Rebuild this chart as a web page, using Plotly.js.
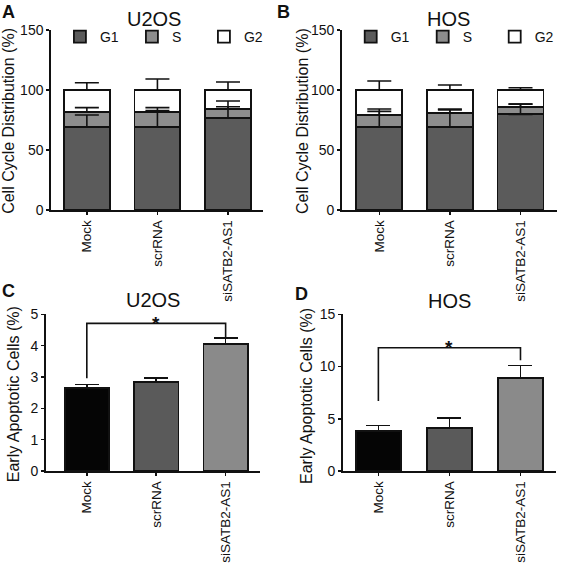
<!DOCTYPE html>
<html>
<head>
<meta charset="utf-8">
<script src="https://cdn.plot.ly/plotly-3.0.1.min.js"></script>
<style>html,body{margin:0;padding:0;background:#fff}</style>
</head>
<body>
<div id="chart" style="width:567px;height:564px"></div>
<script>
// ---------- data ----------
const groups = ['Mock', 'scrRNA', 'siSATB2-AS1'];
const phases = ['G1', 'S', 'G2'];

// Panel A (U2OS) cell-cycle distribution (%)
const u2osG1 = [68.9, 68.9, 76.9];
const u2osS  = [12.5, 12.5, 7.0];
const u2osG2 = [18.6, 18.6, 16.1];
const u2osG1Err = [10.3, 14.0, 9.2];
const u2osSErr  = [3.9, 3.9, 6.9];
const u2osG2Err = [6.1, 9.2, 6.7];

// Panel B (HOS) cell-cycle distribution (%)
const hosG1 = [68.9, 69.4, 79.7];
const hosS  = [10.3, 11.4, 5.9];
const hosG2 = [20.8, 19.2, 14.4];
const hosG1Err = [13.3, 14.0, 8.6];
const hosSErr  = [5.0, 3.4, 2.6];
const hosG2Err = [7.5, 4.2, 1.9];

// Panel C (U2OS) early apoptotic cells (%)
const u2osApop = [2.64, 2.84, 4.05];
const u2osApopErr = [0.12, 0.13, 0.19];
// Panel D (HOS) early apoptotic cells (%)
const hosApop = [3.8, 4.09, 8.9];
const hosApopErr = [0.54, 1.0, 1.2];

// significance brackets: [left leg bottom, bracket top, right leg bottom]
const sigU2os = [2.96, 4.71, 4.24];
const sigHos = [6.7, 11.8, 10.6];

const titleCycle = 'Cell Cycle Distribution (%)';
const titleApop = 'Early Apoptotic Cells (%)';

// ---------- styles ----------
const FONT = 'Liberation Sans, Arial, sans-serif';
const phaseColors = ['#5b5b5b', '#8d8d8d', '#ffffff'];
const apopColors = ['#050505', '#5a5a5a', '#8a8a8a'];
const LINE = {color: '#111', width: 1.8};

function stackTraces(vals, errs, xa, ya, legendName) {
  const out = [];
  const cum = [0, 0, 0];
  const errTraces = [];
  vals.forEach((v, k) => {
    out.push({
      type: 'bar', x: groups, y: v, name: phases[k],
      xaxis: xa, yaxis: ya, legend: legendName,
      marker: {color: phaseColors[k], line: LINE},
      width: 0.65, hoverinfo: 'y+name'
    });
    const tops = v.map((val, i) => (cum[i] += val));
    errTraces.push({
      type: 'scatter', mode: 'markers', x: groups, y: tops.slice(),
      xaxis: xa, yaxis: ya, showlegend: false, hoverinfo: 'skip',
      marker: {size: 1, opacity: 0},
      error_y: {type: 'data', symmetric: false, array: errs[k],
                arrayminus: [0, 0, 0], color: '#111', thickness: 1.6, width: 12}
    });
  });
  return out.concat(errTraces);
}

function apopTrace(vals, errs, xa, ya) {
  return {
    type: 'bar', x: groups, y: vals, xaxis: xa, yaxis: ya, showlegend: false,
    marker: {color: apopColors, line: LINE}, width: 0.64,
    error_y: {type: 'data', symmetric: false, array: errs,
              arrayminus: [0, 0, 0], color: '#111', thickness: 1.6, width: 12}
  };
}

const data = []
  .concat(stackTraces([u2osG1, u2osS, u2osG2], [u2osG1Err, u2osSErr, u2osG2Err], 'x', 'y', 'legend'))
  .concat(stackTraces([hosG1, hosS, hosG2], [hosG1Err, hosSErr, hosG2Err], 'x2', 'y2', 'legend2'))
  .concat([apopTrace(u2osApop, u2osApopErr, 'x3', 'y3'),
           apopTrace(hosApop, hosApopErr, 'x4', 'y4')]);

const W = 567, H = 564;
const px = v => v / W;
const py = v => 1 - v / H;

function xAx(domain, range, anchor) {
  return {
    domain: domain, range: range, type: 'category', anchor: anchor,
    showline: true, linecolor: '#111', linewidth: 1.8,
    ticks: 'outside', ticklen: 3, tickwidth: 1.5, tickcolor: '#111',
    tickangle: -90, tickfont: {family: FONT, size: 13.5, color: '#111'},
    showgrid: false, zeroline: false, fixedrange: true
  };
}
function yAx(domain, range, dtick, anchor) {
  return {
    domain: domain, range: range, dtick: dtick, anchor: anchor,
    showline: true, linecolor: '#111', linewidth: 1.8,
    ticks: 'outside', ticklen: 3, tickwidth: 1.5, tickcolor: '#111',
    tickfont: {family: FONT, size: 14, color: '#111'},
    showgrid: false, zeroline: false, fixedrange: true
  };
}

const topY = [py(210), py(30)];
const botY = [py(471), py(314.3)];

function bracket(xa, ya, s) {
  return {
    type: 'path', xref: xa, yref: ya,
    path: `M 0,${s[0]} L 0,${s[1]} L 2,${s[1]} L 2,${s[2]}`,
    line: {color: '#111', width: 1.6}
  };
}

function ann(text, x, y, size, bold, xanchor, yanchor) {
  return {
    text: bold ? '<b>' + text + '</b>' : text, xref: 'paper', yref: 'paper',
    x: px(x), y: py(y), xanchor: xanchor || 'center', yanchor: yanchor || 'middle',
    showarrow: false, font: {family: FONT, size: size, color: '#111'}
  };
}
function yTitle(text, x, y) {
  return Object.assign(ann(text, x, y, 16), {textangle: -90});
}
function star(xa, ya, yv) {
  return {text: '<b>*</b>', xref: xa, yref: ya, x: 1, y: yv, yanchor: 'middle',
          showarrow: false, font: {family: FONT, size: 19, color: '#111'}};
}

const legendBase = {
  orientation: 'h', yanchor: 'middle', xanchor: 'left',
  font: {family: FONT, size: 14, color: '#111'},
  bgcolor: 'rgba(0,0,0,0)', entrywidth: 27, entrywidthmode: 'pixels',
  itemwidth: 30, traceorder: 'normal', itemclick: false, itemdoubleclick: false
};

const layout = {
  width: W, height: H, margin: {l: 0, r: 0, t: 0, b: 0},
  paper_bgcolor: '#fff', plot_bgcolor: '#fff',
  barmode: 'stack', showlegend: true,
  xaxis:  xAx([px(52), px(268)], [-0.507, 2.5], 'y'),
  yaxis:  yAx(topY, [0, 150], 50, 'x'),
  xaxis2: xAx([px(348), px(566.5)], [-0.53, 2.51], 'y2'),
  yaxis2: yAx(topY, [0, 150], 50, 'x2'),
  xaxis3: xAx([px(46.7), px(265)], [-0.59, 2.5], 'y3'),
  yaxis3: yAx(botY, [0, 5], 1, 'x3'),
  xaxis4: xAx([px(349), px(566)], [-0.5, 2.5], 'y4'),
  yaxis4: yAx(botY, [0, 15], 5, 'x4'),
  legend:  Object.assign({}, legendBase, {x: px(61), y: py(37)}),
  legend2: Object.assign({}, legendBase, {x: px(357), y: py(37)}),
  shapes: [bracket('x3', 'y3', sigU2os), bracket('x4', 'y4', sigHos)],
  annotations: [
    ann('U2OS', 157, 19, 20),
    ann('HOS', 457, 19, 20),
    ann('U2OS', 156, 300, 20),
    ann('HOS', 458, 301, 20),
    ann('A', 0, 0.5, 18, true, 'left', 'top'),
    ann('B', 280, 0.5, 18, true, 'left', 'top'),
    ann('C', 0, 279, 18, true, 'left', 'top'),
    ann('D', 298, 282, 18, true, 'left', 'top'),
    yTitle(titleCycle, 8, 121),
    yTitle(titleCycle, 307.5, 121),
    yTitle(titleApop, 13.5, 394),
    yTitle(titleApop, 311.5, 396),
    star('x3', 'y3', sigU2os[1]),
    star('x4', 'y4', sigHos[1])
  ]
};

Plotly.newPlot('chart', data, layout, {displayModeBar: false, staticPlot: true});
</script>
</body>
</html>
